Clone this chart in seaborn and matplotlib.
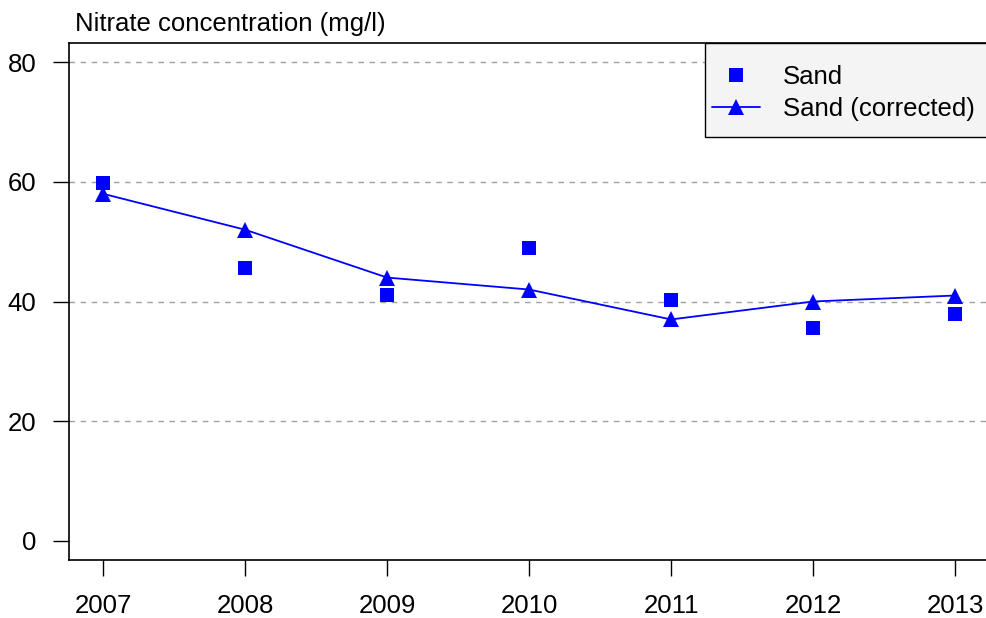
import matplotlib
matplotlib.use("Agg")
import matplotlib.pyplot as plt
from matplotlib.lines import Line2D
from matplotlib.patches import Rectangle
import seaborn as sns
import pandas as pd

# Annual nitrate concentrations (mg/l)
years = [2007, 2008, 2009, 2010, 2011, 2012, 2013]
sand = [59.8, 45.6, 41.1, 48.9, 40.2, 35.6, 37.9]
sand_corrected = [58, 52, 44, 42, 37, 40, 41]
y_ticks = [0, 20, 40, 60, 80]

df = pd.DataFrame({"year": years, "sand": sand, "corrected": sand_corrected})

sns.set_theme(style="white")
plt.rcParams["font.family"] = ["Liberation Sans", "DejaVu Sans"]
plt.rcParams["text.color"] = "black"

W, H = 987, 618
fig = plt.figure(figsize=(W / 100, H / 100), dpi=100)
ax = fig.add_axes([69 / W, 58 / H, (992 - 69) / W, (560 - 43) / H])

blue = "#0000ff"
fs = 18.5

for y in y_ticks[1:]:
    ax.axhline(y, color="#a0a0a0", lw=1.0, ls=(0, (4, 4)), zorder=0)

sns.lineplot(data=df, x="year", y="corrected", ax=ax, color=blue, lw=1.3,
             marker="^", markersize=11.5, markeredgewidth=0, zorder=3)
sns.scatterplot(data=df, x="year", y="sand", ax=ax, color=blue, marker="s",
                s=95, linewidth=0, zorder=4)

ax.set_xlim(2006.76, 2013.26)
ax.set_ylim(-3.2, 83.2)
ax.set_xticks(years)
ax.set_xticklabels([str(y) for y in years])
ax.set_yticks(y_ticks)
ax.set_xlabel("")
ax.set_ylabel("")

for side in ["left", "top", "bottom"]:
    ax.spines[side].set_visible(True)
    ax.spines[side].set_color("black")
    ax.spines[side].set_linewidth(1.2)
ax.spines["right"].set_visible(False)

ax.tick_params(axis="both", which="both", direction="out", length=11.5,
               width=1.0, color="black", labelsize=fs, labelcolor="black",
               left=True, bottom=True)
ax.tick_params(axis="x", pad=13)
ax.tick_params(axis="y", pad=12)

fig.text(75 / W, 1 - 24 / H, "Nitrate concentration (mg/l)", fontsize=fs,
         ha="left", va="center", color="black")

# legend box drawn as its own rectangle, entries placed inside without frame
box = Rectangle((705 / W, 1 - 137 / H), (995 - 705) / W, (137 - 43) / H,
                transform=fig.transFigure, facecolor="#f4f4f4",
                edgecolor="black", lw=1.0, zorder=5, clip_on=False)
ax.add_patch(box)
handles = [
    Line2D([], [], color=blue, marker="s", ls="none", markersize=9.5,
           markeredgewidth=0),
    Line2D([], [], color=blue, marker="^", lw=1.3, markersize=11.5,
           markeredgewidth=0),
]
leg = ax.legend(handles, ["Sand", "Sand (corrected)"],
                loc="upper left", bbox_to_anchor=(712 / W, 1 - 65 / H),
                bbox_transform=fig.transFigure, borderaxespad=0,
                fontsize=fs, frameon=False, borderpad=0, labelcolor="black",
                handlelength=1.87, handletextpad=0.9, labelspacing=0.3)
leg.set_zorder(6)

fig.savefig("out.png", dpi=100)
